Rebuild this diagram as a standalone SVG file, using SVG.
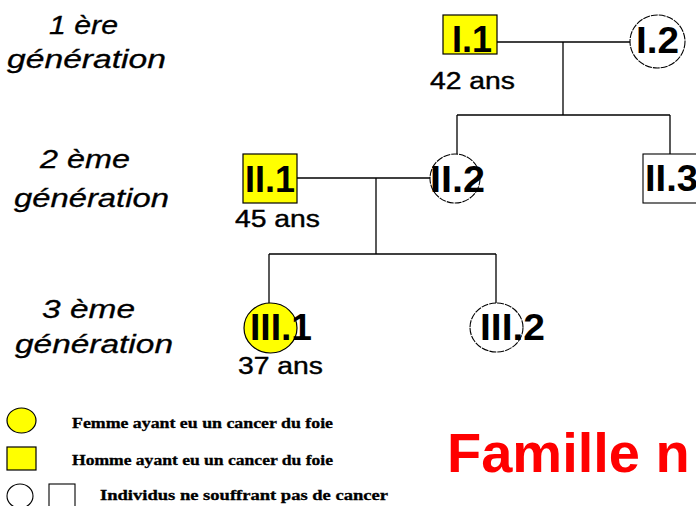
<svg xmlns="http://www.w3.org/2000/svg" width="696" height="506" viewBox="0 0 696 506">
  <style>
    .gen { font-family: "Liberation Sans", Arial, sans-serif; font-style: italic; font-size: 26px; fill: #000; stroke: #000; stroke-width: 0.3; }
    .lbl { font-family: "Liberation Sans", Arial, sans-serif; font-weight: bold; font-size: 36px; fill: #000; }
    .age { font-family: "Liberation Sans", Arial, sans-serif; font-size: 23px; fill: #000; stroke: #000; stroke-width: 0.4; }
    .leg { font-family: "Liberation Serif", "Times New Roman", serif; font-weight: bold; font-size: 14px; fill: #000; stroke: #000; stroke-width: 0.3; }
    .title { font-family: "Liberation Sans", Arial, sans-serif; font-weight: bold; font-size: 56px; fill: #ff0000; }
    .link { stroke: #000; stroke-width: 1.3; fill: none; }
    .sick { fill: #ffff00; stroke: #000; stroke-width: 1.2; }
    .well { fill: #fff; stroke: #000; stroke-width: 1.1; }
    .wellc { fill: #fff; stroke: #000; stroke-width: 1.1; stroke-dasharray: 7 1; }
  </style>

  <!-- generation labels -->
  <g id="generations">
    <text class="gen" x="49" y="34" textLength="69" lengthAdjust="spacingAndGlyphs">1 ère</text>
    <text class="gen" x="7" y="68" textLength="159" lengthAdjust="spacingAndGlyphs">génération</text>
    <text class="gen" x="40" y="168" textLength="90" lengthAdjust="spacingAndGlyphs">2 ème</text>
    <text class="gen" x="14" y="207" textLength="155" lengthAdjust="spacingAndGlyphs">génération</text>
    <text class="gen" x="42" y="318" textLength="93" lengthAdjust="spacingAndGlyphs">3 ème</text>
    <text class="gen" x="15" y="353" textLength="158" lengthAdjust="spacingAndGlyphs">génération</text>
  </g>

  <!-- connectors -->
  <g id="connectors" class="link">
    <line x1="497" y1="42" x2="630" y2="42"/>
    <line x1="563" y1="42" x2="563" y2="115"/>
    <line x1="457" y1="115" x2="670" y2="115"/>
    <line x1="457" y1="115" x2="457" y2="154"/>
    <line x1="670" y1="115" x2="670" y2="154"/>
    <line x1="297" y1="178" x2="430" y2="178"/>
    <line x1="376" y1="178" x2="376" y2="254"/>
    <line x1="269" y1="254" x2="496" y2="254"/>
    <line x1="269" y1="254" x2="269" y2="303"/>
    <line x1="496" y1="254" x2="496" y2="303"/>
  </g>

  <!-- generation I -->
  <g id="I1">
    <rect class="sick" x="443" y="15" width="54" height="39"/>
    <text class="lbl" x="452" y="52" textLength="40" lengthAdjust="spacingAndGlyphs">I.1</text>
    <text class="age" x="430" y="89" textLength="85" lengthAdjust="spacingAndGlyphs">42 ans</text>
  </g>
  <g id="I2">
    <ellipse class="wellc" cx="657.5" cy="41.5" rx="27.5" ry="26.5"/>
    <text class="lbl" x="636" y="53" textLength="43" lengthAdjust="spacingAndGlyphs">I.2</text>
  </g>

  <!-- generation II -->
  <g id="II1">
    <rect class="sick" x="243" y="154" width="54" height="49"/>
    <text class="lbl" x="245" y="192" textLength="50" lengthAdjust="spacingAndGlyphs">II.1</text>
    <text class="age" x="235" y="227" textLength="85" lengthAdjust="spacingAndGlyphs">45 ans</text>
  </g>
  <g id="II2">
    <ellipse class="wellc" cx="455" cy="178.5" rx="25" ry="24.5"/>
    <text class="lbl" x="430" y="192" textLength="55" lengthAdjust="spacingAndGlyphs">II.2</text>
  </g>
  <g id="II3">
    <rect class="well" x="643" y="154" width="60" height="49"/>
    <text class="lbl" x="645" y="191" textLength="53" lengthAdjust="spacingAndGlyphs">II.3</text>
  </g>

  <!-- generation III -->
  <g id="III1">
    <ellipse class="sick" cx="270.5" cy="328" rx="26.5" ry="25"/>
    <text class="lbl" x="250" y="340" textLength="62" lengthAdjust="spacingAndGlyphs">III.1</text>
    <text class="age" x="238" y="374" textLength="85" lengthAdjust="spacingAndGlyphs">37 ans</text>
  </g>
  <g id="III2">
    <ellipse class="wellc" cx="496.5" cy="327.5" rx="26.5" ry="24.5"/>
    <text class="lbl" x="480" y="340" textLength="65" lengthAdjust="spacingAndGlyphs">III.2</text>
  </g>

  <!-- legend -->
  <g id="legend">
    <ellipse class="sick" cx="21.5" cy="420.5" rx="14.5" ry="12.5"/>
    <text class="leg" x="72" y="428" textLength="261" lengthAdjust="spacingAndGlyphs">Femme ayant eu un cancer du foie</text>
    <rect class="sick" x="7" y="447" width="29" height="23"/>
    <text class="leg" x="72" y="465" textLength="261" lengthAdjust="spacingAndGlyphs">Homme ayant eu un cancer du foie</text>
    <ellipse class="well" cx="20" cy="496" rx="13" ry="12"/>
    <rect class="well" x="49" y="484" width="26" height="26"/>
    <text class="leg" x="100" y="500" textLength="288" lengthAdjust="spacingAndGlyphs">Individus ne souffrant pas de cancer</text>
  </g>

  <!-- title -->
  <g id="title">
    <text class="title" x="447" y="472">Famille n</text>
  </g>
</svg>
